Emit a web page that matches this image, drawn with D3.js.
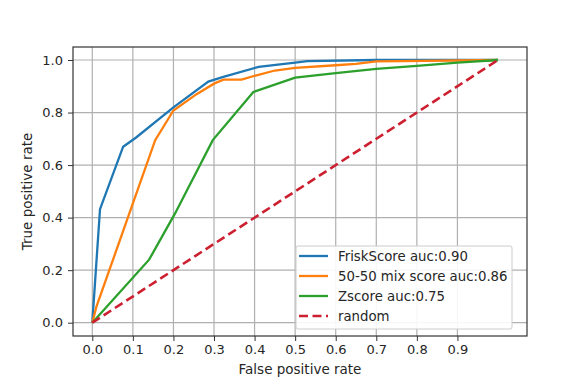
<!DOCTYPE html>
<html>
<head>
<meta charset="utf-8">
<script src="https://cdn.jsdelivr.net/npm/d3@7"></script>
<style>
  body { margin: 0; background: #fff; }
  text { font-family: "DejaVu Sans", sans-serif; }
</style>
</head>
<body>
<script>
// ROC curves
var fprFrisk = [0, 0.019, 0.076, 0.108, 0.2, 0.286, 0.323, 0.41, 0.5, 0.53, 0.7, 1.0];
var tprFrisk = [0, 0.432, 0.67, 0.705, 0.82, 0.918, 0.936, 0.974, 0.99, 0.996, 1.0, 1.0];

var fprMix = [0, 0.01, 0.155, 0.2, 0.257, 0.3, 0.323, 0.368, 0.4, 0.45, 0.5, 0.6, 0.65, 0.7, 1.0];
var tprMix = [0, 0.06, 0.695, 0.808, 0.87, 0.91, 0.925, 0.925, 0.94, 0.96, 0.97, 0.98, 0.985, 0.995, 1.0];

var fprZ = [0, 0.14, 0.204, 0.297, 0.397, 0.5, 0.6, 0.7, 0.8, 0.9, 1.0];
var tprZ = [0, 0.24, 0.416, 0.695, 0.878, 0.933, 0.95, 0.966, 0.978, 0.99, 1.0];

var fprRandom = [0, 1];
var tprRandom = [0, 1];

var seriesNames = ["FriskScore auc:0.90", "50-50 mix score auc:0.86", "Zscore auc:0.75", "random"];
var xTicks = [0, 0.1, 0.2, 0.3, 0.4, 0.5, 0.6, 0.7, 0.8, 0.9];
var yTicks = [0, 0.2, 0.4, 0.6, 0.8, 1.0];

var width = 576,
    height = 384;

var box = {left: 73, right: 527, top: 47, bottom: 336};

var svg = d3.select("body")
  .append("svg")
  .attr("width", width)
  .attr("height", height);

// x: 0 -> 92.3px, 1 -> 498px ; y: 0 -> 322.7px, 1 -> 60px
var x = d3.scaleLinear()
  .domain([(box.left - 92.3) / 405.7, (box.right - 92.3) / 405.7])
  .range([box.left, box.right]);

var y = d3.scaleLinear()
  .domain([(322.7 - box.bottom) / 262.7, (322.7 - box.top) / 262.7])
  .range([box.bottom, box.top]);

// grid
svg.append("g")
  .selectAll("line")
  .data(xTicks)
  .enter().append("line")
    .attr("x1", d => x(d)).attr("x2", d => x(d))
    .attr("y1", box.top).attr("y2", box.bottom)
    .attr("stroke", "#b0b0b0").attr("stroke-width", 1.2);

svg.append("g")
  .selectAll("line")
  .data(yTicks)
  .enter().append("line")
    .attr("y1", d => y(d)).attr("y2", d => y(d))
    .attr("x1", box.left).attr("x2", box.right)
    .attr("stroke", "#b0b0b0").attr("stroke-width", 1.2);

// axes
var xAxis = svg.append("g")
  .attr("transform", "translate(0," + box.bottom + ")")
  .call(d3.axisBottom(x).tickValues(xTicks).tickFormat(d3.format(".1f")).tickSizeInner(5).tickSizeOuter(0).tickPadding(4));

var yAxis = svg.append("g")
  .attr("transform", "translate(" + box.left + ",0)")
  .call(d3.axisLeft(y).tickValues(yTicks).tickFormat(d3.format(".1f")).tickSizeInner(5).tickSizeOuter(0).tickPadding(5));

[xAxis, yAxis].forEach(function(a) {
  a.select(".domain").remove();
  a.selectAll("text").attr("font-size", 13).attr("fill", "#262626")
    .attr("font-family", "DejaVu Sans, sans-serif");
  a.selectAll("line").attr("stroke", "#333");
});

// frame
svg.append("rect")
  .attr("x", box.left).attr("y", box.top)
  .attr("width", box.right - box.left).attr("height", box.bottom - box.top)
  .attr("fill", "none").attr("stroke", "#333").attr("stroke-width", 1.2);

// curves
var series = [
  {name: seriesNames[0], fpr: fprFrisk, tpr: tprFrisk, color: "#1f77b4", dash: null},
  {name: seriesNames[1], fpr: fprMix, tpr: tprMix, color: "#ff7f0e", dash: null},
  {name: seriesNames[2], fpr: fprZ, tpr: tprZ, color: "#2ca02c", dash: null},
  {name: seriesNames[3], fpr: fprRandom, tpr: tprRandom, color: "#cc2030", dash: "9,4.5"}
];

var line = d3.line()
  .x(d => x(d[0]))
  .y(d => y(d[1]));

svg.append("g")
  .selectAll("path")
  .data(series)
  .enter().append("path")
    .attr("d", d => line(d3.zip(d.fpr, d.tpr)))
    .attr("fill", "none")
    .attr("stroke", d => d.color)
    .attr("stroke-width", d => d.dash ? 2.6 : 2.3)
    .attr("stroke-dasharray", d => d.dash);

// axis labels
svg.append("text")
  .attr("x", (box.left + box.right) / 2)
  .attr("y", 374)
  .attr("text-anchor", "middle")
  .attr("font-size", 13.5)
  .attr("fill", "#262626")
  .text("False positive rate");

svg.append("text")
  .attr("transform", "translate(32," + (box.top + box.bottom) / 2 + ") rotate(-90)")
  .attr("text-anchor", "middle")
  .attr("font-size", 13.5)
  .attr("fill", "#262626")
  .text("True positive rate");

// legend
var legend = svg.append("g");

legend.append("rect")
  .attr("x", 296).attr("y", 246)
  .attr("width", 216).attr("height", 83)
  .attr("rx", 2)
  .attr("fill", "#fff").attr("fill-opacity", 0.9)
  .attr("stroke", "#ccc");

var item = legend.selectAll("g.item")
  .data(series)
  .enter().append("g")
    .attr("class", "item")
    .attr("transform", (d, i) => "translate(0," + (256 + i * 20) + ")");

item.append("line")
  .attr("x1", 299).attr("x2", 328)
  .attr("stroke", d => d.color)
  .attr("stroke-width", d => d.dash ? 2.6 : 2.3)
  .attr("stroke-dasharray", d => d.dash);

item.append("text")
  .attr("x", 338)
  .attr("dy", "0.35em")
  .attr("font-size", 13.3)
  .attr("fill", "#262626")
  .text(d => d.name);
</script>
</body>
</html>
